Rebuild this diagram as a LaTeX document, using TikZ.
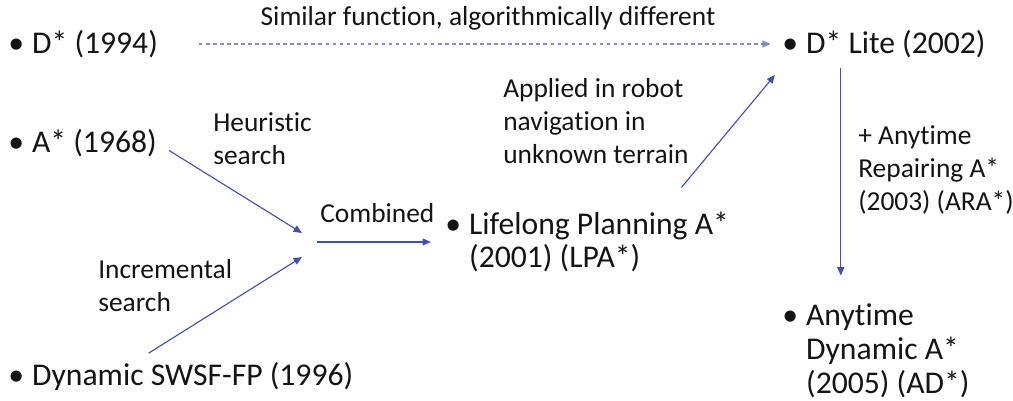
\documentclass[tikz,border=0pt]{standalone}
\usepackage{fontspec}
\setmainfont{Carlito}[Ligatures=NoCommon]
\usetikzlibrary{arrows.meta, positioning}
\definecolor{arrowblue}{RGB}{68,78,178}
\definecolor{dashblue}{RGB}{130,140,200}
\definecolor{inktext}{RGB}{20,20,20}
\newcommand{\itembul}{\makebox[17pt][l]{\textbullet}}
\newcommand{\hangsp}{\hspace*{17pt}}

\begin{document}
\begin{tikzpicture}[x=0.025cm, y=-0.025cm,
  >={Triangle[length=6pt,width=5pt]},
  item/.style={anchor=west, inner sep=0pt, align=left, text=inktext,
               font=\fontsize{22.5}{24.1}\selectfont},
  note/.style={anchor=west, inner sep=0pt, align=left, text=inktext,
               font=\fontsize{19.5}{23.4}\selectfont},
  arr/.style={draw=arrowblue, line width=0.8pt, ->},
  darr/.style={draw=dashblue, line width=0.8pt, dash pattern=on 2.5pt off 2.5pt, ->}
]
  \useasboundingbox (0,0) rectangle (1013,401);
  % left column
  \node[item] (d94) at (8,44) {\itembul D* (1994)};
  \node[item] (a68) at (8,143) {\itembul A* (1968)};
  \node[item] (swsf) at (8,376) {\itembul Dynamic SWSF-FP (1996)};
  \node[note] (heur) at (213,139) {Heuristic\\search};
  \node[note] (incr) at (98,286) {Incremental\\search};
  % middle
  \node[note] (comb) at (320,213) {Combined};
  \node[item] (lpa) at (445,242) {\itembul Lifelong Planning A*\\\hangsp(2001) (LPA*)};
  \node[note] (appl) at (503,121) {Applied in robot\\navigation in\\unknown terrain};
  \node[note, anchor=center] (sim) at (488,18) {Similar function, algorithmically different};
  % right column
  \node[item] (dlite) at (782,44) {\itembul D* Lite (2002)};
  \node[note] (ara) at (858,170) {+ Anytime\\Repairing A*\\(2003) (ARA*)};
  \node[item] (ad) at (782,351) {\itembul Anytime\\\hangsp Dynamic A*\\\hangsp(2005) (AD*)};
  % connectors
  \coordinate (hsEnd) at (302,233);
  \coordinate (isEnd) at (302,257);
  \coordinate (cbStart) at (317,242);
  \draw[darr, shorten <=29pt, shorten >=8pt] (d94) -- (dlite);
  \draw[arr, shorten <=10pt] (a68.east) -- (hsEnd);
  \draw[arr] ([xshift=100pt,yshift=6pt]swsf.north west) -- (isEnd);
  \draw[arr, shorten >=10pt] (cbStart) -- (lpa.west);
  \draw[arr] ([xshift=-34pt,yshift=17pt]lpa.north east) -- ([xshift=-5pt,yshift=-12pt]dlite.south west);
  \draw[arr] ([xshift=41.8pt,yshift=-7pt]dlite.south west) -- ([xshift=41.8pt,yshift=20pt]ad.north west);
\end{tikzpicture}
\end{document}
